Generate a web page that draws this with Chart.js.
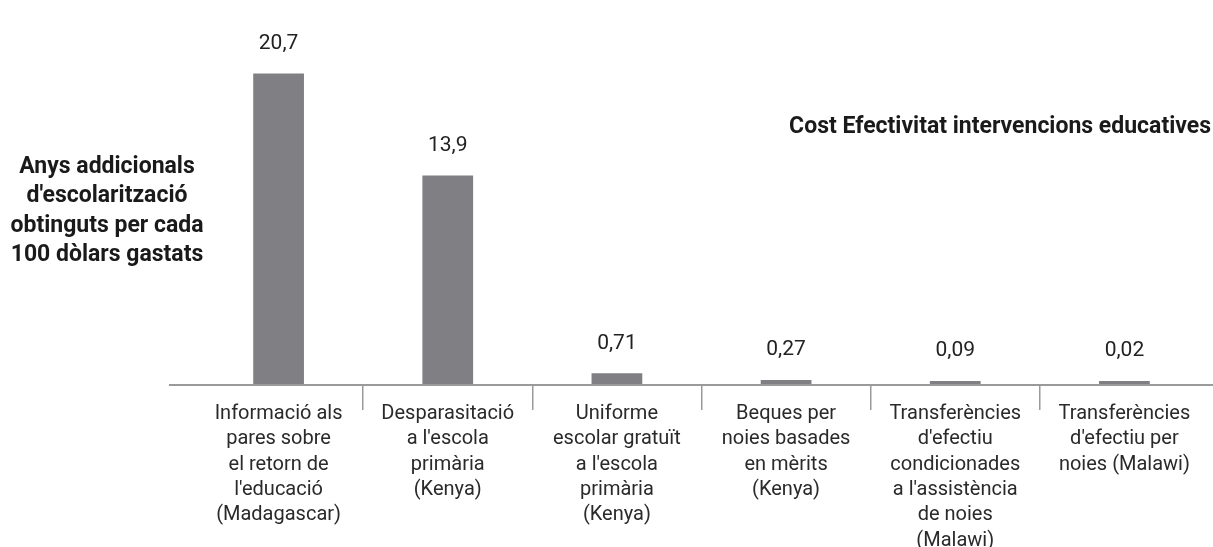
<!DOCTYPE html>
<html>
<head>
<meta charset="utf-8">
<script src="https://cdn.jsdelivr.net/npm/chart.js@4"></script>
<style>
  html, body { margin: 0; padding: 0; background: #fff; }
  #wrap { width: 1213px; height: 547px; position: relative; }
</style>
</head>
<body>
<div id="wrap"><canvas id="chart"></canvas></div>
<script>
// --- Dades ---
const categories = [
  ["Informació als", "pares sobre", "el retorn de", "l'educació", "(Madagascar)"],
  ["Desparasitació", "a l'escola", "primària", "(Kenya)"],
  ["Uniforme", "escolar gratuït", "a l'escola", "primària", "(Kenya)"],
  ["Beques per", "noies basades", "en mèrits", "(Kenya)"],
  ["Transferències", "d'efectiu", "condicionades", "a l'assistència", "de noies", "(Malawi)"],
  ["Transferències", "d'efectiu per", "noies (Malawi)"]
];
const values = [20.7, 13.9, 0.71, 0.27, 0.09, 0.02];
const yTitleLines = ["Anys addicionals", "d'escolarització", "obtinguts per cada", "100 dòlars gastats"];
const chartTitle = "Cost Efectivitat intervencions educatives";

const FONT = "Roboto, 'Open Sans', sans-serif";

// --- Plugin: línia base, etiquetes de valor i textos ---
const decorPlugin = {
  id: 'decor',
  beforeDatasetsDraw(chart) {
    const { ctx, chartArea } = chart;
    ctx.save();
    ctx.strokeStyle = '#9a9a9a';
    ctx.lineWidth = 2;
    ctx.beginPath();
    ctx.moveTo(169, chartArea.bottom + 1);
    ctx.lineTo(chart.width, chartArea.bottom + 1);
    ctx.stroke();
    ctx.restore();
  },
  afterDatasetsDraw(chart) {
    const { ctx } = chart;
    const meta = chart.getDatasetMeta(0);
    ctx.save();
    ctx.fillStyle = '#222';
    ctx.font = "21px " + FONT;
    ctx.textAlign = 'center';
    ctx.textBaseline = 'middle';
    meta.data.forEach((bar, i) => {
      const y = Math.min(bar.y - 30, 354);
      ctx.fillText(String(values[i]).replace('.', ','), bar.x, y);
    });

    // títol de l'eix Y
    ctx.fillStyle = '#1a1a1a';
    ctx.font = "bold 23px " + FONT;
    yTitleLines.forEach((line, i) => {
      ctx.fillText(line, 107, 167 + i * 29.5);
    });

    // títol
    ctx.textAlign = 'right';
    ctx.fillText(chartTitle, 1211, 127);
    ctx.restore();
  }
};

const chart = new Chart(document.getElementById('chart'), {
  type: 'bar',
  data: {
    labels: categories,
    datasets: [{
      data: values,
      backgroundColor: '#808084',
      borderWidth: 0,
      barPercentage: 0.3,
      categoryPercentage: 1,
      minBarLength: 3
    }]
  },
  options: {
    responsive: true,
    maintainAspectRatio: false,
    animation: false,
    layout: { padding: { left: 194, right: 4, top: 54, bottom: 0 } },
    plugins: {
      legend: { display: false },
      tooltip: { enabled: false },
      title: { display: false }
    },
    scales: {
      y: {
        display: false,
        min: 0,
        max: 22
      },
      x: {
        afterFit(scale) { scale.height = 163; },
        border: { display: false },
        grid: {
          offset: true,
          drawOnChartArea: false,
          drawTicks: true,
          tickLength: 26,
          lineWidth: 1.5,
          color: (c) => (c.index === undefined || c.index === 0 || c.index >= categories.length) ? 'rgba(0,0,0,0)' : '#9a9a9a'
        },
        ticks: {
          color: '#2a2a2a',
          padding: -9,
          maxRotation: 0,
          autoSkip: false,
          font: { family: FONT, size: 20, lineHeight: 1.27 }
        }
      }
    }
  },
  plugins: [decorPlugin]
});
</script>
</body>
</html>
